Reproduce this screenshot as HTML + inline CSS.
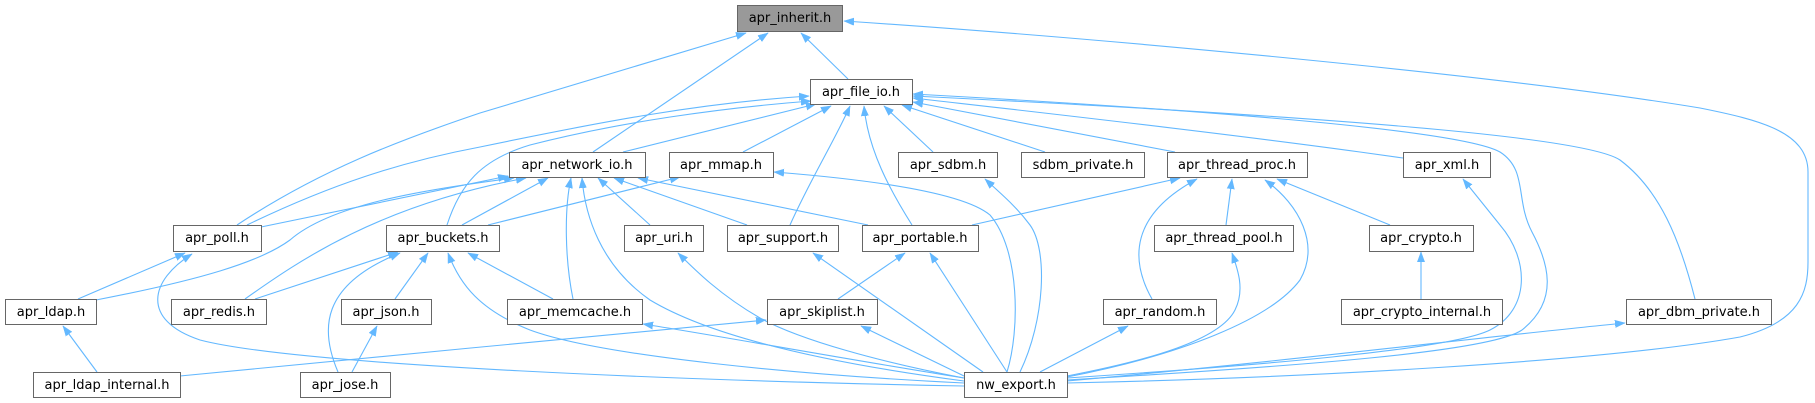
<!DOCTYPE html>
<html><head><meta charset="utf-8"><style>
html,body{margin:0;padding:0;background:#fff;}
svg{display:block;}
text{font-family:"DejaVu Sans","Liberation Sans",sans-serif;font-size:13px;fill:#000;text-anchor:middle;}
.e{fill:none;stroke:#63b8ff;stroke-width:1.1;marker-end:url(#ah);}
.n{fill:#fff;stroke:#666;stroke-width:1;}
</style></head><body>
<svg width="1815" height="403" viewBox="0 0 1815 403" xmlns="http://www.w3.org/2000/svg">
<defs>
<marker id="ah" markerUnits="userSpaceOnUse" markerWidth="12" markerHeight="9" refX="10" refY="4" orient="auto">
<path d="M0,0.3 L10,4 L0,7.7 z" fill="#63b8ff" stroke="#63b8ff" stroke-width="0.5"/>
</marker>
</defs>
<!-- into apr_inherit -->
<path class="e" d="M237,225 C320,170 400,140 480,113 L746,33"/>
<path class="e" d="M593,152 L768,33"/>
<path class="e" d="M848,79 L801,33"/>
<path class="e" d="M1067,383 C1300,378 1600,362 1740,337 C1800,322 1808,292 1808,262 L1808,172 C1808,132 1760,120 1700,108 C1500,75 1100,38 844,21"/>
<!-- into apr_file_io -->
<path class="e" d="M247,225 C330,185 400,162 480,147 C600,122 700,103 809,96"/>
<path class="e" d="M447,225 C460,185 480,160 530,145 C620,122 720,108 811,101"/>
<path class="e" d="M623,152 L816,104"/>
<path class="e" d="M743,152 L831,106"/>
<path class="e" d="M790,225 C810,180 835,140 850,106"/>
<path class="e" d="M912,225 C890,190 868,150 864,106"/>
<path class="e" d="M933,152 L884,106"/>
<path class="e" d="M1045,152 L902,105"/>
<path class="e" d="M1175,152 L913,102"/>
<path class="e" d="M1403,158 L1360,152 C1200,130 1000,108 913,98"/>
<path class="e" d="M1067,380 C1300,366 1490,352 1522,330 C1560,300 1548,262 1532,232 C1515,200 1528,170 1500,152 C1470,135 1300,115 913,94"/>
<path class="e" d="M1695,299 C1680,240 1660,190 1620,160 C1590,140 1400,120 913,96"/>
<!-- into apr_network_io -->
<path class="e" d="M261,227 L508,176"/>
<path class="e" d="M96,300 C200,280 260,262 290,240 C330,205 420,190 514,178"/>
<path class="e" d="M245,299 C300,260 380,205 526,178"/>
<path class="e" d="M462,225 L548,178"/>
<path class="e" d="M573,299 C565,260 564,210 571,178"/>
<path class="e" d="M964,381 C850,366 720,342 650,300 C600,265 585,215 582,178"/>
<path class="e" d="M650,225 L598,178"/>
<path class="e" d="M747,225 L614,178"/>
<path class="e" d="M868,225 L638,178"/>
<!-- into apr_mmap -->
<path class="e" d="M488,225 L680,177"/>
<path class="e" d="M1007,372 C1020,330 1020,250 990,215 C960,190 850,178 774,172"/>
<!-- into apr_sdbm -->
<path class="e" d="M1020,372 C1045,320 1048,250 1030,225 C1015,205 1000,193 985,179"/>
<!-- into apr_thread_proc -->
<path class="e" d="M972,225 L1180,178"/>
<path class="e" d="M1152,299 C1130,260 1130,215 1197,179"/>
<path class="e" d="M1226,225 L1232,179"/>
<path class="e" d="M1067,377 C1180,355 1270,320 1300,280 C1320,245 1300,205 1265,180"/>
<path class="e" d="M1390,225 L1277,179"/>
<!-- into apr_xml -->
<path class="e" d="M1067,378 C1250,366 1450,350 1490,330 C1530,310 1530,260 1500,225 L1463,179"/>
<!-- into apr_poll -->
<path class="e" d="M78,299 L185,253"/>
<path class="e" d="M964,386 C700,381 300,366 200,340 C140,320 150,280 192,254"/>
<!-- into apr_buckets -->
<path class="e" d="M255,299 L398,252"/>
<path class="e" d="M338,372 C320,330 320,285 400,253"/>
<path class="e" d="M395,299 L428,253"/>
<path class="e" d="M553,299 L468,253"/>
<path class="e" d="M964,383 C800,375 600,356 530,330 C480,310 460,285 448,253"/>
<!-- into apr_uri -->
<path class="e" d="M964,378 C880,362 800,340 760,318 C720,295 695,270 678,253"/>
<!-- into apr_support -->
<path class="e" d="M983,372 L813,253"/>
<!-- into apr_portable -->
<path class="e" d="M838,299 L905,253"/>
<path class="e" d="M1007,372 L930,253"/>
<!-- into apr_thread_pool -->
<path class="e" d="M1067,376 C1150,360 1220,340 1235,310 C1245,290 1238,270 1232,253"/>
<!-- into apr_crypto -->
<path class="e" d="M1421,299 L1421,252"/>
<!-- into apr_ldap -->
<path class="e" d="M97,372 L63,326"/>
<!-- into apr_json -->
<path class="e" d="M352,372 L377,326"/>
<!-- into apr_memcache -->
<path class="e" d="M964,378 C850,360 720,336 643,324"/>
<!-- into apr_skiplist -->
<path class="e" d="M180,376 C350,360 600,335 766,320"/>
<path class="e" d="M964,376 L861,326"/>
<!-- into apr_random -->
<path class="e" d="M1040,372 L1128,326"/>
<!-- into apr_dbm_private -->
<path class="e" d="M1067,381 C1300,360 1500,335 1625,323"/>

<!-- nodes -->
<rect x="737.5" y="5.5" width="105" height="26" fill="#999999" stroke="#666" stroke-width="1"/>
<text x="790" y="22">apr_inherit.h</text>

<rect class="n" x="810.5" y="79.5" width="102" height="25"/><text x="861" y="96">apr_file_io.h</text>

<rect class="n" x="509.5" y="152.5" width="136" height="25"/><text x="577" y="169">apr_network_io.h</text>
<rect class="n" x="669.5" y="152.5" width="104" height="25"/><text x="721" y="169">apr_mmap.h</text>
<rect class="n" x="898.5" y="152.5" width="99" height="25"/><text x="948" y="169">apr_sdbm.h</text>
<rect class="n" x="1021.5" y="152.5" width="123" height="25"/><text x="1083" y="169">sdbm_private.h</text>
<rect class="n" x="1167.5" y="152.5" width="140" height="25"/><text x="1237" y="169">apr_thread_proc.h</text>
<rect class="n" x="1403.5" y="152.5" width="87" height="25"/><text x="1447" y="169">apr_xml.h</text>

<rect class="n" x="173.5" y="225.5" width="88" height="26"/><text x="217" y="242">apr_poll.h</text>
<rect class="n" x="386.5" y="225.5" width="113" height="26"/><text x="443" y="242">apr_buckets.h</text>
<rect class="n" x="624.5" y="225.5" width="79" height="26"/><text x="664" y="242">apr_uri.h</text>
<rect class="n" x="727.5" y="225.5" width="111" height="26"/><text x="783" y="242">apr_support.h</text>
<rect class="n" x="862.5" y="225.5" width="116" height="26"/><text x="920" y="242">apr_portable.h</text>
<rect class="n" x="1154.5" y="225.5" width="139" height="26"/><text x="1224" y="242">apr_thread_pool.h</text>
<rect class="n" x="1369.5" y="225.5" width="104" height="26"/><text x="1421" y="242">apr_crypto.h</text>

<rect class="n" x="5.5" y="299.5" width="91" height="25"/><text x="51" y="316">apr_ldap.h</text>
<rect class="n" x="171.5" y="299.5" width="95" height="25"/><text x="219" y="316">apr_redis.h</text>
<rect class="n" x="341.5" y="299.5" width="90" height="25"/><text x="386" y="316">apr_json.h</text>
<rect class="n" x="507.5" y="299.5" width="135" height="25"/><text x="575" y="316">apr_memcache.h</text>
<rect class="n" x="767.5" y="299.5" width="110" height="25"/><text x="822" y="316">apr_skiplist.h</text>
<rect class="n" x="1103.5" y="299.5" width="113" height="25"/><text x="1160" y="316">apr_random.h</text>
<rect class="n" x="1341.5" y="299.5" width="161" height="25"/><text x="1422" y="316">apr_crypto_internal.h</text>
<rect class="n" x="1626.5" y="299.5" width="145" height="25"/><text x="1699" y="316">apr_dbm_private.h</text>

<rect class="n" x="33.5" y="372.5" width="147" height="25"/><text x="107" y="389">apr_ldap_internal.h</text>
<rect class="n" x="300.5" y="372.5" width="90" height="25"/><text x="345" y="389">apr_jose.h</text>
<rect class="n" x="964.5" y="372.5" width="103" height="25"/><text x="1016" y="389">nw_export.h</text>
</svg>
</body></html>
